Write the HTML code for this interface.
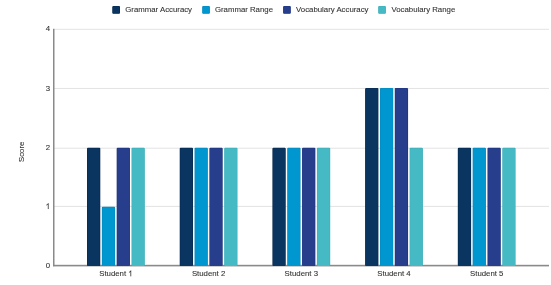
<!DOCTYPE html>
<html><head><meta charset="utf-8"><style>
html,body{margin:0;padding:0;background:#fff;width:551px;height:285px;overflow:hidden}
svg{display:block}
.t{font-family:"Liberation Sans",sans-serif;font-size:7.8px;fill:#333333;stroke:#333333;stroke-width:0.1px}
.g{fill:#333333;stroke:#333333;stroke-width:26.3px}
</style></head><body>
<svg width="551" height="285" viewBox="0 0 551 285">
<defs><filter id="b" x="-5%" y="-50%" width="110%" height="200%"><feGaussianBlur stdDeviation="0.35"/></filter></defs>
<rect x="53.0" y="205.90" width="496.0" height="1" fill="#e3e3e3"/>
<rect x="53.0" y="147.70" width="496.0" height="1" fill="#e3e3e3"/>
<rect x="53.0" y="87.95" width="496.0" height="1" fill="#e3e3e3"/>
<rect x="53.0" y="28.80" width="496.0" height="1" fill="#e3e3e3"/>
<rect x="53.0" y="28.80" width="1.5" height="237.40" fill="#8a8a8a"/>
<rect x="53.0" y="264.80" width="496.0" height="1.6" fill="#8a8a8a"/>
<rect x="87.00" y="147.85" width="13.3" height="118.05" rx="1" fill="#062a50"/>
<rect x="87.60" y="148.45" width="12.10" height="117.45" rx="0.6" fill="#0a3561"/>
<rect x="101.83" y="206.80" width="13.3" height="59.10" rx="1" fill="#0589bd"/>
<rect x="102.43" y="207.40" width="12.10" height="58.50" rx="0.6" fill="#0097d0"/>
<rect x="116.66" y="147.85" width="13.3" height="118.05" rx="1" fill="#1f347f"/>
<rect x="117.26" y="148.45" width="12.10" height="117.45" rx="0.6" fill="#273e8d"/>
<rect x="131.50" y="147.85" width="13.3" height="118.05" rx="1" fill="#3cafb9"/>
<rect x="132.09" y="148.45" width="12.10" height="117.45" rx="0.6" fill="#46bac4"/>
<rect x="179.71" y="147.85" width="13.3" height="118.05" rx="1" fill="#062a50"/>
<rect x="180.31" y="148.45" width="12.10" height="117.45" rx="0.6" fill="#0a3561"/>
<rect x="194.54" y="147.85" width="13.3" height="118.05" rx="1" fill="#0589bd"/>
<rect x="195.14" y="148.45" width="12.10" height="117.45" rx="0.6" fill="#0097d0"/>
<rect x="209.37" y="147.85" width="13.3" height="118.05" rx="1" fill="#1f347f"/>
<rect x="209.97" y="148.45" width="12.10" height="117.45" rx="0.6" fill="#273e8d"/>
<rect x="224.20" y="147.85" width="13.3" height="118.05" rx="1" fill="#3cafb9"/>
<rect x="224.80" y="148.45" width="12.10" height="117.45" rx="0.6" fill="#46bac4"/>
<rect x="272.41" y="147.85" width="13.3" height="118.05" rx="1" fill="#062a50"/>
<rect x="273.01" y="148.45" width="12.10" height="117.45" rx="0.6" fill="#0a3561"/>
<rect x="287.24" y="147.85" width="13.3" height="118.05" rx="1" fill="#0589bd"/>
<rect x="287.84" y="148.45" width="12.10" height="117.45" rx="0.6" fill="#0097d0"/>
<rect x="302.07" y="147.85" width="13.3" height="118.05" rx="1" fill="#1f347f"/>
<rect x="302.67" y="148.45" width="12.10" height="117.45" rx="0.6" fill="#273e8d"/>
<rect x="316.90" y="147.85" width="13.3" height="118.05" rx="1" fill="#3cafb9"/>
<rect x="317.50" y="148.45" width="12.10" height="117.45" rx="0.6" fill="#46bac4"/>
<rect x="365.11" y="88.00" width="13.3" height="177.90" rx="1" fill="#062a50"/>
<rect x="365.71" y="88.60" width="12.10" height="177.30" rx="0.6" fill="#0a3561"/>
<rect x="379.94" y="88.00" width="13.3" height="177.90" rx="1" fill="#0589bd"/>
<rect x="380.54" y="88.60" width="12.10" height="177.30" rx="0.6" fill="#0097d0"/>
<rect x="394.77" y="88.00" width="13.3" height="177.90" rx="1" fill="#1f347f"/>
<rect x="395.37" y="88.60" width="12.10" height="177.30" rx="0.6" fill="#273e8d"/>
<rect x="409.60" y="147.85" width="13.3" height="118.05" rx="1" fill="#3cafb9"/>
<rect x="410.20" y="148.45" width="12.10" height="117.45" rx="0.6" fill="#46bac4"/>
<rect x="457.81" y="147.85" width="13.3" height="118.05" rx="1" fill="#062a50"/>
<rect x="458.41" y="148.45" width="12.10" height="117.45" rx="0.6" fill="#0a3561"/>
<rect x="472.64" y="147.85" width="13.3" height="118.05" rx="1" fill="#0589bd"/>
<rect x="473.24" y="148.45" width="12.10" height="117.45" rx="0.6" fill="#0097d0"/>
<rect x="487.47" y="147.85" width="13.3" height="118.05" rx="1" fill="#1f347f"/>
<rect x="488.07" y="148.45" width="12.10" height="117.45" rx="0.6" fill="#273e8d"/>
<rect x="502.30" y="147.85" width="13.3" height="118.05" rx="1" fill="#3cafb9"/>
<rect x="502.90" y="148.45" width="12.10" height="117.45" rx="0.6" fill="#46bac4"/>
<rect x="112.3" y="6" width="7.7" height="7.8" rx="1" fill="#062a50"/>
<rect x="112.8" y="6.5" width="6.7" height="6.8" rx="0.6" fill="#0a3561"/>
<rect x="202.2" y="6" width="7.7" height="7.8" rx="1" fill="#0589bd"/>
<rect x="202.7" y="6.5" width="6.7" height="6.8" rx="0.6" fill="#0097d0"/>
<rect x="283.1" y="6" width="7.7" height="7.8" rx="1" fill="#1f347f"/>
<rect x="283.6" y="6.5" width="6.7" height="6.8" rx="0.6" fill="#273e8d"/>
<rect x="378.2" y="6" width="7.7" height="7.8" rx="1" fill="#3cafb9"/>
<rect x="378.7" y="6.5" width="6.7" height="6.8" rx="0.6" fill="#46bac4"/>
<g filter="url(#b)">
<text transform="translate(50.00,268.30) scale(1,1.0)" text-anchor="end" class="t">0</text>
<path transform="translate(45.66,208.95) scale(0.003809,-0.003809)" d="M763 0H583V1147Q518 1085 413 1023T223 930V1104Q374 1175 487 1276T647 1472H763Z" class="g"/>
<text transform="translate(50.00,149.50) scale(1,1.0)" text-anchor="end" class="t">2</text>
<text transform="translate(50.00,90.55) scale(1,1.0)" text-anchor="end" class="t">3</text>
<text transform="translate(50.00,31.20) scale(1,1.0)" text-anchor="end" class="t">4</text>
<text transform="translate(99.21,276.20) scale(1,1.0)" text-anchor="start" class="t">Student&#160;</text>
<path transform="translate(128.26,276.20) scale(0.003809,-0.003809)" d="M763 0H583V1147Q518 1085 413 1023T223 930V1104Q374 1175 487 1276T647 1472H763Z" class="g"/>
<text transform="translate(191.91,276.20) scale(1,1.0)" text-anchor="start" class="t">Student&#160;</text>
<text transform="translate(220.96,276.20) scale(1,1.0)" text-anchor="start" class="t">2</text>
<text transform="translate(284.61,276.20) scale(1,1.0)" text-anchor="start" class="t">Student&#160;</text>
<text transform="translate(313.66,276.20) scale(1,1.0)" text-anchor="start" class="t">3</text>
<text transform="translate(377.31,276.20) scale(1,1.0)" text-anchor="start" class="t">Student&#160;</text>
<text transform="translate(406.36,276.20) scale(1,1.0)" text-anchor="start" class="t">4</text>
<text transform="translate(470.01,276.20) scale(1,1.0)" text-anchor="start" class="t">Student&#160;</text>
<text transform="translate(499.06,276.20) scale(1,1.0)" text-anchor="start" class="t">5</text>
<text transform="translate(23.9,151.8) rotate(-90) scale(1,1.0)" text-anchor="middle" class="t">Score</text>
<text transform="translate(125.30,12.30) scale(1,1.0)" text-anchor="start" class="t">Grammar Accuracy</text>
<text transform="translate(214.90,12.30) scale(1,1.0)" text-anchor="start" class="t">Grammar Range</text>
<text transform="translate(296.10,12.30) scale(1,1.0)" text-anchor="start" class="t">Vocabulary Accuracy</text>
<text transform="translate(391.50,12.30) scale(1,1.0)" text-anchor="start" class="t">Vocabulary Range</text>
</g>
</svg>
</body></html>
